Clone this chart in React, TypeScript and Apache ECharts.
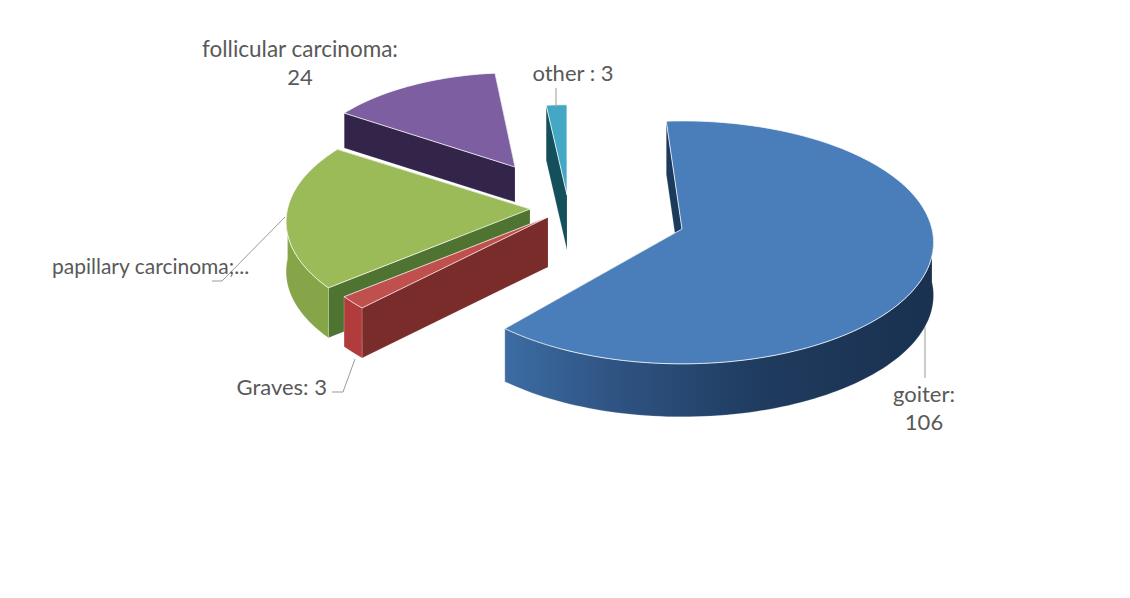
import React, { useEffect, useRef } from "react";
import * as echarts from "echarts";

const names = ["goiter", "Graves", "papillary carcinoma", "follicular carcinoma", "other"];
const values = [106, 3, 34, 24, 3];

// Layout and style of the exploded slices (same order as names)
const drawOrder = [3, 4, 0, 2, 1];
const apexX = [682, 548, 530, 515, 567];
const apexY = [229, 217, 209, 167, 195];
const rotation = [0, 4, 4, 4.5, 4];
const radiusScale = [1, 0.98, 0.97, 0.86, 0.82];
const depths = [53, 50, 50, 35, 55];
const topColors = ["#4a7ebb", "#c0504d", "#9bbb59", "#7d5ea0", "#42a8c4"];
const wallColors = ["#1c3a5c", "#7a2c2b", "#4f7330", "#33244a", "#144f5c"];
const frontColors = ["#2c4d75", "#b23c3c", "#86a548", "#33244a", "#144f5c"];

const START = -4;
const RX = 250;
const RY = 120;
const K = 0.11;
const FONT = "Lato, 'Open Sans', sans-serif";
const TEXT = "#595959";
const LEADER = "#9a9a9a";

const total = values.reduce((a, b) => a + b, 0);

function sliceAngles(i: number): [number, number] {
  let sum = 0;
  for (let j = 0; j < i; j++) sum += values[j];
  const a0 = START + (sum / total) * 360 + rotation[i];
  const a1 = a0 + (values[i] / total) * 360;
  return [a0, a1];
}

function project(i: number, deg: number): number[] {
  const r = (deg * Math.PI) / 180;
  const u = Math.sin(r) * radiusScale[i];
  const v = -Math.cos(r) * radiusScale[i];
  const s = 1 / (1 - K * v);
  return [apexX[i] + RX * u * s, apexY[i] + RY * v * s];
}

function arc(i: number, from: number, to: number): number[][] {
  const out: number[][] = [];
  const n = Math.max(2, Math.ceil((to - from) / 1.5));
  for (let k = 0; k <= n; k++) out.push(project(i, from + ((to - from) * k) / n));
  return out;
}

const down = (pts: number[][], d: number) => pts.map((p) => [p[0], p[1] + d]);

function renderSlice(_params: any, api: any) {
  const i = api.value(0) as number;
  const [a0, a1] = sliceAngles(i);
  const apex = [apexX[i], apexY[i]];
  const d = depths[i];
  const children: any[] = [];
  const wall = (edge: number[]) =>
    children.push({
      type: "polygon",
      shape: { points: [edge, apex, down([apex], d)[0], down([edge], d)[0]] },
      style: { fill: wallColors[i], stroke: "rgba(255,255,255,0.25)", lineWidth: 0.6 },
    });
  wall(project(i, a1));
  wall(project(i, a0));
  const f0 = Math.max(a0, 90);
  const f1 = Math.min(a1, 270);
  if (f1 > f0) {
    const top = arc(i, f0, f1);
    const fill =
      i === 0
        ? new echarts.graphic.LinearGradient(1, 0, 0, 0, [
            { offset: 0, color: "#1a3150" },
            { offset: 0.4, color: "#1f3b5e" },
            { offset: 0.75, color: "#2f5483" },
            { offset: 1, color: "#3c6ca3" },
          ])
        : frontColors[i];
    children.push({
      type: "polygon",
      shape: { points: [...top, ...down(top, d).reverse()] },
      style: { fill, stroke: "rgba(255,255,255,0.35)", lineWidth: 0.6 },
    });
  }
  children.push({
    type: "polygon",
    shape: { points: [apex, ...arc(i, a0, a1)] },
    style: { fill: topColors[i], stroke: "rgba(255,255,255,0.75)", lineWidth: 1 },
  });
  return { type: "group", children };
}

const label = (text: string, x: number, y: number, size = 22, align = "center") => ({
  type: "text",
  x,
  y,
  z: 20,
  style: {
    text,
    fill: TEXT,
    font: `${size}px ${FONT}`,
    textAlign: align,
    textVerticalAlign: "middle",
  },
});

const leader = (points: number[][]) => ({
  type: "polyline",
  z: 19,
  shape: { points },
  style: { stroke: LEADER, lineWidth: 1, fill: "none" },
});

export default function App() {
  const ref = useRef<HTMLDivElement>(null);
  useEffect(() => {
    const chart = echarts.init(ref.current!, undefined, { renderer: "svg" });
    chart.setOption({
      animation: false,
      backgroundColor: "#ffffff",
      series: [
        {
          type: "custom",
          coordinateSystem: "none",
          renderItem: renderSlice,
          clip: false,
          silent: true,
          data: drawOrder.map((i) => ({ name: names[i], value: [i, values[i]] })),
        },
      ],
      graphic: [
        leader([[556, 88], [556, 107]]),
        leader([[925, 327], [925, 378]]),
        leader([[355, 359], [343, 392], [332, 392]]),
        leader([[285, 217], [222, 281], [212, 281]]),
        label(`${names[3]}:`, 300, 48, 22.5),
        label(`${values[3]}`, 300, 76),
        label(`${names[4]} : ${values[4]}`, 573, 72),
        label(`${names[2]};...`, 52, 265, 21, "left"),
        label(`${names[1]}: ${values[1]}`, 327, 386, 22, "right"),
        label(`${names[0]}:`, 924, 393),
        label(`${values[0]}`, 924, 421),
      ],
    });
    return () => chart.dispose();
  }, []);
  return (
    <div
      ref={ref}
      style={{ position: "fixed", left: 0, top: 0, width: 1130, height: 598 }}
    />
  );
}
